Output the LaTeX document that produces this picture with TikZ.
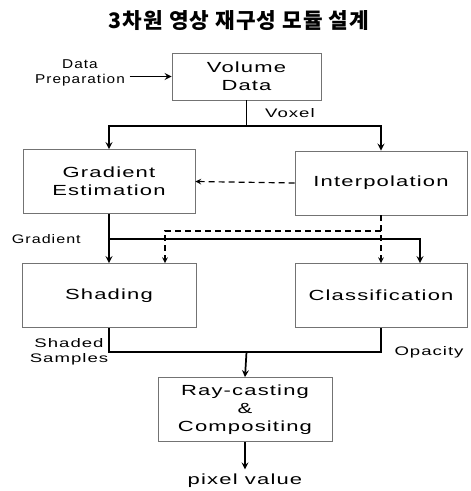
\documentclass[tikz,border=0pt]{standalone}
\usepackage{fontspec}
\setmainfont{Liberation Sans}[FakeStretch=1.5, LetterSpace=8]
\newfontfamily\krfont{Noto Sans CJK KR}[LetterSpace=5]
\usepackage{tikz}
\usetikzlibrary{positioning, arrows}
\tikzstyle{arrow} = [line width=1.3pt,->,>=stealth]
\tikzstyle{flowline} = [line width=1.3pt]
\tikzstyle{dasharrow} = [line width=0.9pt,dash pattern=on 4.5pt off 3pt,->,>=stealth]
\tikzstyle{dashline} = [line width=0.9pt,dash pattern=on 4.5pt off 3pt]
\tikzstyle{module} = [rectangle, minimum width=129pt, minimum height=48pt, text centered, align=center, draw=black!55, line width=0.6pt, font=\fontsize{11}{13.5}\selectfont]
\tikzstyle{tag} = [align=center, font=\fontsize{9.3}{11}\selectfont]

\begin{document}
\begin{tikzpicture}[x=0.75pt, y=-0.75pt]
                \useasboundingbox (0,0) rectangle (470,491);
                \node (title) at (239,21) {\krfont\bfseries\fontsize{16}{19}\selectfont 3차원 영상 재구성 모듈 설계};
                \node (volume) [module, minimum width=111.75pt, minimum height=35.25pt] at (246.5,76.5) {Volume\\Data};
                \node (prep) [tag, font=\fontsize{9.6}{11.2}\selectfont\addfontfeatures{FakeStretch=1.2}] at (80,72.5) {Data\\Preparation};
                \node (gradest) [module] at (109,181.5) {Gradient\\Estimation};
                \node (interp) [module] at (381,183) {Interpolation};
                \node (shading) [module, minimum width=130.5pt] at (109,295.5) {Shading};
                \node (classif) [module] at (381,295.5) {Classification};
                \node (raycast) [module, minimum width=130.5pt] at (245,409.5) {Ray-casting\\\&\\Compositing};
                \node (pixel) [tag, font=\fontsize{11}{13}\selectfont] at (245,481) {pixel value};

                \coordinate (voxsplit) at (volume.south |- 0,126);
                \coordinate (gradsplit) at (gradest.south |- 0,239);
                \coordinate (interpsplit) at (interp.south |- 0,231);
                \coordinate (merge) at (volume.south |- 0,352);

                \draw [arrow] (prep.east |- volume.west) -- (volume.west);
                \draw [flowline] (volume.south) -- node[tag, xshift=32.6pt]{Voxel} (voxsplit);
                \draw [arrow] (voxsplit) -| (gradest.north);
                \draw [arrow] (voxsplit) -| (interp.north);
                \draw [dasharrow] (interp.west) -- (gradest.east);
                \draw [arrow] (gradest.south) -- (shading.north);
                \draw [arrow] (gradsplit) -| ([xshift=29.25pt]classif.north);
                \node (gradlbl) [tag, font=\fontsize{9.3}{11}\selectfont\addfontfeatures{FakeStretch=1.3}, xshift=-47pt] at (gradsplit) {Gradient};
                \draw [dasharrow] (interp.south) -- (classif.north);
                \draw [dasharrow] (interpsplit) -| ([xshift=42pt]shading.north);
                \draw [flowline] (shading.south) |- (merge) -| (classif.south);
                \node (shadlbl) [tag, xshift=-30pt] at (shading.south |- merge) {Shaded\\Samples};
                \node (oplbl) [tag, xshift=36pt] at (classif.south |- merge) {Opacity};
                \draw [arrow] (merge) -- (raycast.north);
                \draw [arrow] (raycast.south) -- (pixel.north);
\end{tikzpicture}
\end{document}
